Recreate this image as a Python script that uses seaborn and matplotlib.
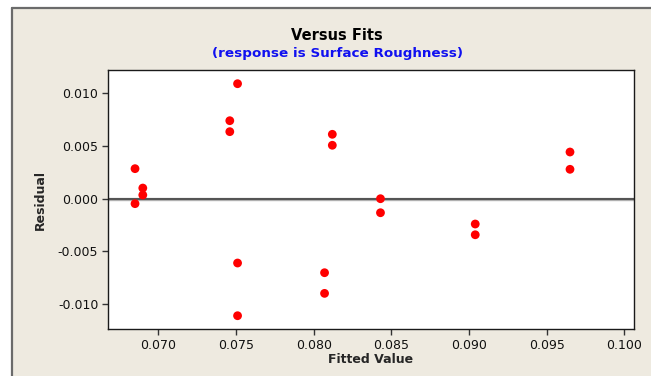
import numpy as np
import pandas as pd
import matplotlib
matplotlib.use("Agg")
import matplotlib.pyplot as plt
import seaborn as sns
from matplotlib.patches import Rectangle

# values
fitted = [0.0685, 0.0685, 0.0690, 0.0690,
          0.0746, 0.0746, 0.0751, 0.0751, 0.0751,
          0.0812, 0.0812, 0.0807, 0.0807,
          0.0843, 0.0843,
          0.0904, 0.0904,
          0.0965, 0.0965]
residual = [0.00285, -0.00047, 0.00101, 0.00035,
            0.00740, 0.00636, 0.01091, -0.00610, -0.01110,
            0.00611, 0.00507, -0.00702, -0.00898,
            0.00000, -0.00133,
            -0.00240, -0.00342,
            0.00443, 0.00279]
x_ticks = [0.070, 0.075, 0.080, 0.085, 0.090, 0.095, 0.100]
y_ticks = [-0.010, -0.005, 0.000, 0.005, 0.010]

df = pd.DataFrame({"Fitted Value": fitted, "Residual": residual})

sns.set_style("white")
plt.rcParams["font.family"] = ["DejaVu Sans"]

fig = plt.figure(figsize=(6.51, 3.76), dpi=100)
fig.patch.set_facecolor("white")

# beige panel with a dark frame on the left and top
W, H = 651, 376
bg = Rectangle((11 / W, 0), 1, (H - 8) / H, transform=fig.transFigure,
               facecolor="#EEEAE0", edgecolor="none", zorder=-10)
fig.add_artist(bg)
fig.add_artist(plt.Line2D([11.5 / W, 11.5 / W], [0, (H - 7.5) / H],
                          transform=fig.transFigure, color="#6b6b6b", lw=1.6, zorder=-9))
fig.add_artist(plt.Line2D([11.5 / W, 1], [(H - 7.5) / H, (H - 7.5) / H],
                          transform=fig.transFigure, color="#6b6b6b", lw=1.6, zorder=-9))

ax = fig.add_axes([108 / W, 1 - 329 / H, 526 / W, 259 / H])
ax.set_zorder(5)
ax.set_facecolor("white")

ax.axhline(0, color="#b0b0b0", lw=2.4, zorder=1)
ax.axhline(0, color="#3a3a3a", lw=1.1, zorder=1)

sns.scatterplot(data=df, x="Fitted Value", y="Residual", ax=ax,
                color="#FF0000", s=40, edgecolor="none", zorder=3)

ax.set_xlim(0.06676, 0.10062)
ax.set_ylim(-0.01236, 0.01221)
ax.set_xticks(x_ticks)
ax.set_yticks(y_ticks)
ax.set_xticklabels([f"{v:.3f}" for v in x_ticks])
ax.set_yticklabels([f"{v:.3f}" for v in y_ticks])
ax.tick_params(axis="both", direction="out", length=4, width=1, color="#333333",
               labelsize=9, labelcolor="#111111", pad=3)
ax.tick_params(axis="x", bottom=True)
ax.tick_params(axis="y", left=True)
for sp in ax.spines.values():
    sp.set_color("#1a1a1a")
    sp.set_linewidth(1)

ax.set_xlabel("Fitted Value", fontsize=9, fontweight="bold", labelpad=1)
ax.set_ylabel("Residual", fontsize=9, fontweight="bold", labelpad=8)

fig.text(337 / W, 1 - 35 / H, "Versus Fits", ha="center", va="center",
         fontsize=10.5, fontweight="bold", color="black")
fig.text(337 / W, 1 - 53 / H, "(response is Surface Roughness)", ha="center",
         va="center", fontsize=9.7, fontweight="bold", color="#1010F0")

fig.savefig("out.png", dpi=100)
